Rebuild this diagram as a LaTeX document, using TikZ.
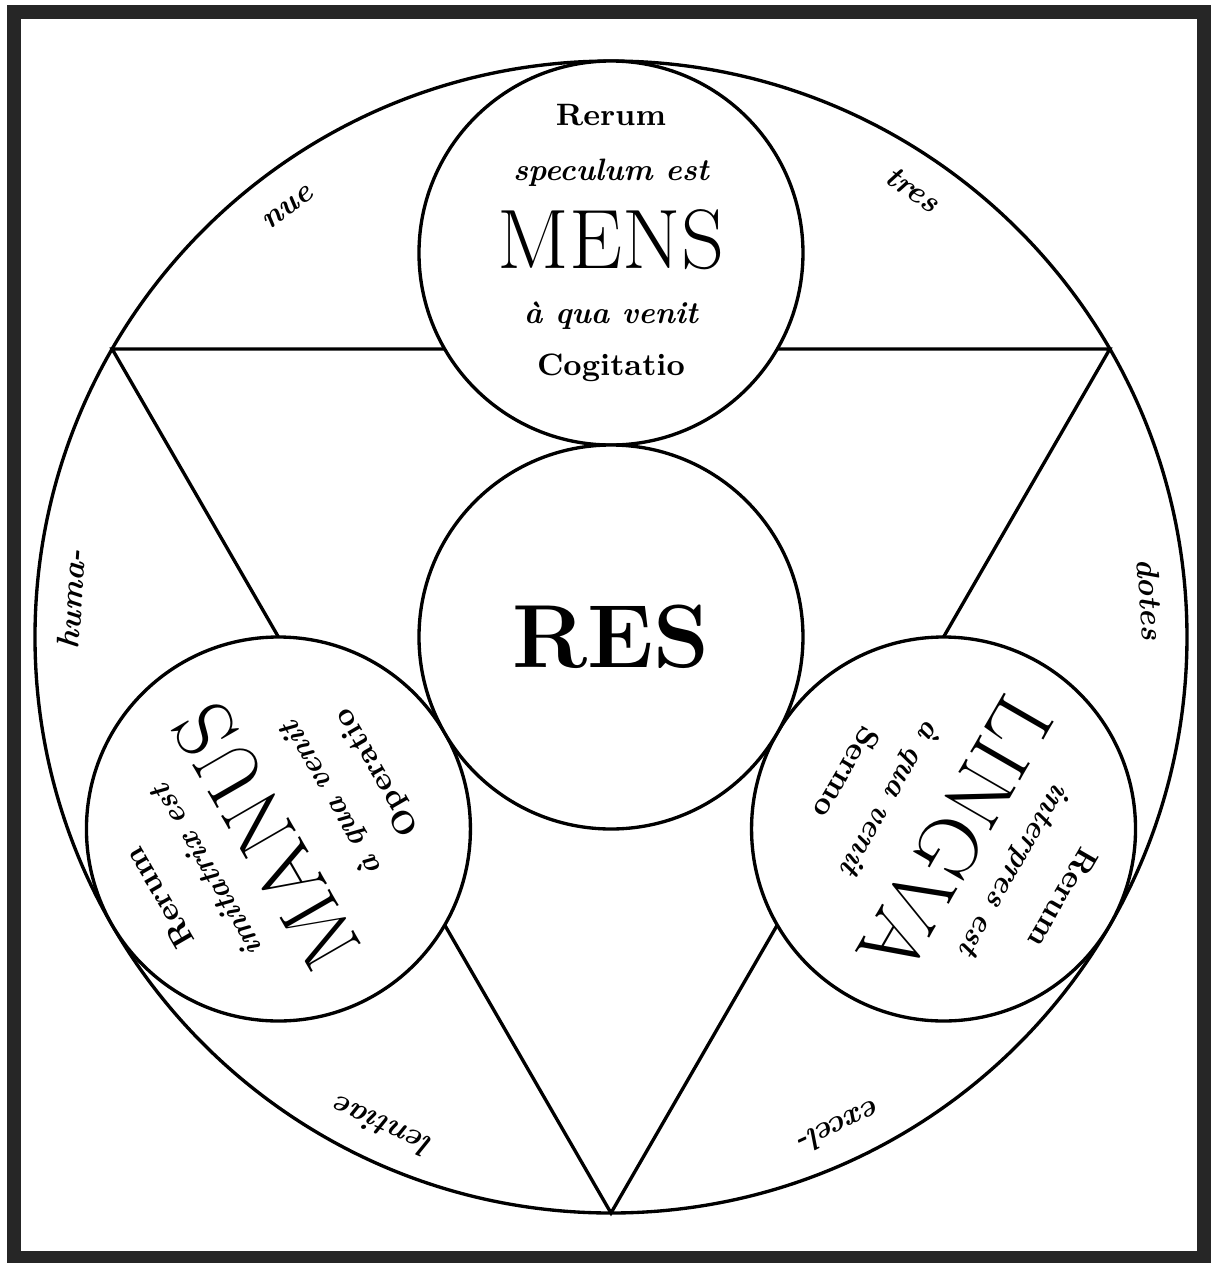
\documentclass[tikz,border=0pt]{standalone}
\usepackage{fontspec}

\begin{document}
\begin{tikzpicture}[line width=0.95pt,
  disc/.style={circle,draw,fill=white,minimum size=3.84cm,inner sep=0pt,outer sep=0pt},
  plain/.style={anchor=base,font=\fontsize{8.8}{10}\selectfont\bfseries},
  slant/.style={anchor=base,font=\fontsize{8.8}{10}\selectfont\bfseries\itshape},
  title/.style={anchor=base,font=\fontsize{24}{26}\selectfont},
  rim/.style={anchor=base,font=\fontsize{9}{10}\selectfont\bfseries\itshape}]
\useasboundingbox (-6.11,-6.26) rectangle (6.01,6.37);
\draw[line width=1.4mm,black!85] (-5.97,-6.21) rectangle (5.93,6.25);
% outer ring and triangle
\node[circle,draw,minimum size=11.52cm,inner sep=0pt,outer sep=0pt] (orb) at (0,0) {};
\coordinate (tl) at (150:5.76);
\coordinate (tr) at (30:5.76);
\coordinate (bt) at (270:5.76);
\draw (tl) -- (tr) -- (bt) -- cycle;
% the four discs
\node[disc] (mens) at (90:3.84) {};
\node[disc] (lingva) at (-30:3.84) {};
\node[disc] (manus) at (210:3.84) {};
\node[disc] (res) at (0,0) {};
\node[font=\fontsize{25.5}{27}\selectfont\bfseries] (resword) at (res) {RES};
\begin{scope}[shift={(90:3.84)},transform shape]
\node[plain] (mens1) at (0,1.28) {Rerum};
\node[slant] (mens2) at (0,0.73) {speculum est};
\node[title] (mens3) at (0,-0.15) {MENS};
\node[slant] (mens4) at (0,-0.70) {à qua venit};
\node[plain] (mens5) at (0,-1.22) {Cogitatio};
\end{scope}
\begin{scope}[shift={(210:3.84)},rotate=120,transform shape]
\node[plain] (manus1) at (0,1.28) {Rerum};
\node[slant] (manus2) at (0,0.73) {imitatrix est};
\node[title] (manus3) at (0,-0.15) {MANUS};
\node[slant] (manus4) at (0,-0.70) {à qua venit};
\node[plain] (manus5) at (0,-1.22) {Operatio};
\end{scope}
\begin{scope}[shift={(-30:3.84)},rotate=240,transform shape]
\node[plain] (lingva1) at (0,1.28) {Rerum};
\node[slant] (lingva2) at (0,0.73) {interpres est};
\node[title] (lingva3) at (0,-0.15) {LINGVA};
\node[slant] (lingva4) at (0,-0.70) {à qua venit};
\node[plain] (lingva5) at (0,-1.22) {Sermo};
\end{scope}
% words round the rim
\foreach \ang/\txt [count=\i] in {56/tres,4/dotes,-65/excel-,-115/lentiae,176/huma-,127/nue}
  \node[rim,rotate=\ang-90] (rim\i) at (\ang:5.30) {\txt};
\end{tikzpicture}
\end{document}
